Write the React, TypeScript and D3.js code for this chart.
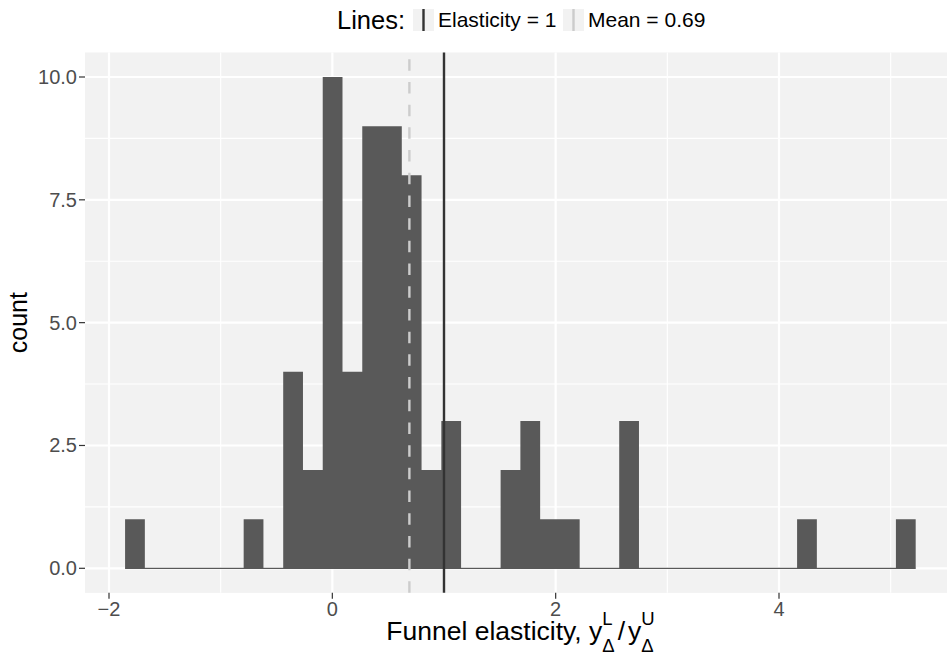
import React from "react";
import * as d3 from "d3";

// ---- data ----
const binStart = -1.856;
const binWidth = 0.177;
const binCounts = [1, 0, 0, 0, 0, 0, 1, 0, 4, 2, 10, 4, 9, 9, 8, 2, 3, 0, 0, 2, 3, 1, 1, 0, 0, 3, 0, 0, 0, 0, 0, 0, 0, 0, 1, 0, 0, 0, 0, 1];
const xTicks = [-2, 0, 2, 4];
const xTickLabels = ["\u22122", "0", "2", "4"];
const xMinor = [-3, -1, 1, 3, 5];
const yTicks = [0, 2.5, 5, 7.5, 10];
const yTickLabels = ["0.0", "2.5", "5.0", "7.5", "10.0"];
const yMinor = [1.25, 3.75, 6.25, 8.75];
const lineNames = ["Elasticity = 1", "Mean = 0.69"];
const lineValues = [1, 0.69];

const W = 947;
const H = 659;
const FONT = "'Liberation Sans', Arial, Helvetica, sans-serif";

const canvas = typeof document !== "undefined" ? document.createElement("canvas") : null;
function measure(text: string, size: number) {
  if (!canvas) return text.length * size * 0.55;
  const ctx = canvas.getContext("2d")!;
  ctx.font = `${size}px 'Liberation Sans', Arial, sans-serif`;
  return ctx.measureText(text).width;
}

export default function App() {
  const x = d3.scaleLinear().domain([-2, 4]).range([109, 779]);
  const y = d3.scaleLinear().domain([0, 10]).range([568.3, 77]);
  const panelL = 85;
  const panelR = W;
  const panelT = y(10.5);
  const panelB = y(-0.5);

  const bins = binCounts.map((c, i) => ({ x0: binStart + i * binWidth, x1: binStart + (i + 1) * binWidth, c }));
  const lineStyles = [
    { color: "#333333", dash: "none" },
    { color: "#CCCCCC", dash: "11.5 11.2" },
  ];

  // bars as one path (no seams between neighbours)
  const barPath = d3.path();
  bins.filter((b) => b.c > 0).forEach((b) => {
    barPath.rect(x(b.x0), y(b.c), x(b.x1) - x(b.x0), y(0) - y(b.c));
  });

  // x axis title (plotmath-like)
  const F = 26.5;
  const S = 18.5;
  const baseY = 639;
  const t1 = "Funnel elasticity, y";
  const w1 = measure(t1, F);
  const wScript1 = Math.max(measure("L", S), measure("\u0394", S));
  const wSlash = measure("/", F);
  const wY = measure("y", F);
  const wScript2 = Math.max(measure("U", S), measure("\u0394", S));
  const gap = 3;
  const total = w1 + wScript1 + gap + wSlash + gap + wY + wScript2;
  const cx = 520.5;
  const x0 = cx - total / 2;
  const xs1 = x0 + w1;
  const xSlash = xs1 + wScript1 + gap;
  const xY2 = xSlash + wSlash + gap;
  const xs2 = xY2 + wY;

  return (
    <div style={{ position: "absolute", left: 0, top: 0 }}>
      <svg width={W} height={H} style={{ display: "block", fontFamily: FONT }}>
        <rect x={0} y={0} width={W} height={H} fill="#FFFFFF" />
        {/* panel */}
        <rect x={panelL} y={panelT} width={panelR - panelL} height={panelB - panelT} fill="#F2F2F2" />
        {yMinor.map((v) => (
          <line key={"ym" + v} x1={panelL} x2={panelR} y1={y(v)} y2={y(v)} stroke="#FFFFFF" strokeWidth={1.1} />
        ))}
        {xMinor.map((v) => (
          <line key={"xm" + v} x1={x(v)} x2={x(v)} y1={panelT} y2={panelB} stroke="#FFFFFF" strokeWidth={1.1} />
        ))}
        {yTicks.map((v) => (
          <line key={"yM" + v} x1={panelL} x2={panelR} y1={y(v)} y2={y(v)} stroke="#FFFFFF" strokeWidth={2.2} />
        ))}
        {xTicks.map((v) => (
          <line key={"xM" + v} x1={x(v)} x2={x(v)} y1={panelT} y2={panelB} stroke="#FFFFFF" strokeWidth={2.2} />
        ))}
        {/* zero-height bins baseline */}
        <line x1={x(bins[0].x0)} x2={x(bins[bins.length - 1].x1)} y1={y(0)} y2={y(0)} stroke="#595959" strokeWidth={1.3} />
        <path d={barPath.toString()} fill="#595959" />
        {/* reference lines */}
        {lineValues.map((v, i) => (
          <line key={"rl" + i} x1={x(v)} x2={x(v)} y1={panelB} y2={panelT} stroke={lineStyles[i].color} strokeWidth={2.4} strokeDasharray={lineStyles[i].dash} />
        ))}
        {/* y axis */}
        {yTicks.map((v, i) => (
          <g key={"yt" + v}>
            <line x1={panelL - 6} x2={panelL} y1={y(v)} y2={y(v)} stroke="#333333" strokeWidth={1.2} />
            <text x={77} y={y(v)} dy="0.35em" textAnchor="end" fontSize={20} fill="#4D4D4D">{yTickLabels[i]}</text>
          </g>
        ))}
        {/* x axis */}
        {xTicks.map((v, i) => (
          <g key={"xt" + v}>
            <line x1={x(v)} x2={x(v)} y1={panelB} y2={panelB + 6} stroke="#333333" strokeWidth={1.2} />
            <text x={x(v)} y={616} textAnchor="middle" fontSize={20} fill="#4D4D4D">{xTickLabels[i]}</text>
          </g>
        ))}
        {/* axis titles */}
        <text transform={`translate(27, ${(panelT + panelB) / 2}) rotate(-90)`} textAnchor="middle" fontSize={25} fill="#000000">count</text>
        <g fill="#000000">
          <text x={x0} y={baseY + 1} fontSize={F}>{t1}</text>
          <text x={xs1} y={baseY - 14} fontSize={S}>L</text>
          <text x={xs1} y={baseY + 12.5} fontSize={S}>{"\u0394"}</text>
          <text x={xSlash} y={baseY + 1} fontSize={F}>/</text>
          <text x={xY2} y={baseY + 1} fontSize={F}>y</text>
          <text x={xs2} y={baseY - 14} fontSize={S}>U</text>
          <text x={xs2} y={baseY + 12.5} fontSize={S}>{"\u0394"}</text>
        </g>
        {/* legend */}
        <text x={337} y={29} fontSize={25.5} fill="#000000">Lines:</text>
        {lineNames.map((name, i) => {
          const kx = i === 0 ? 413 : 563;
          return (
            <g key={"lg" + i}>
              <rect x={kx} y={9} width={21} height={22} fill="#F2F2F2" />
              <line x1={kx + 10.5} x2={kx + 10.5} y1={9} y2={31} stroke={lineStyles[i].color} strokeWidth={2.4} />
              <text x={kx + 25} y={27} fontSize={21} fill="#000000">{name}</text>
            </g>
          );
        })}
      </svg>
    </div>
  );
}
